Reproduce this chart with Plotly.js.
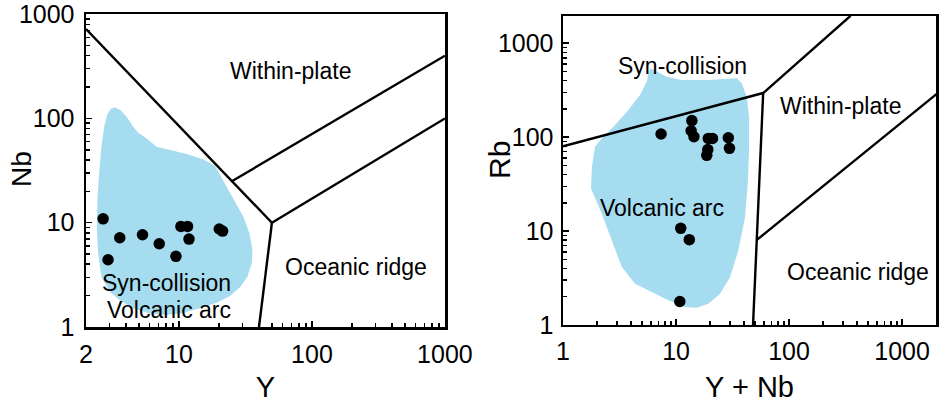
<!DOCTYPE html>
<html>
<head>
<meta charset="utf-8">
<script src="https://cdn.plot.ly/plotly-3.0.1.min.js"></script>
<style>
html,body{margin:0;padding:0;background:#fff;}
#chart{width:950px;height:403px;}
</style>
</head>
<body>
<div id="chart"></div>
<script>
// ---------- Left panel: Nb vs Y ----------
const leftFieldY  = [3.29,3.64,4.04,4.53,4.94,5.71,6.79,8.08,11.4,15.2,18.7,20.4,22.9,26.4,30.5,33.9,35.7,35.3,32.7,28.8,24.2,19.2,14.4,10.8,8.07,6.04,4.53,3.59,3.02,2.61,2.47,2.41,2.44,2.51,2.61,2.74,2.88,3.06];
const leftFieldNb = [128,120,104,83.3,72.9,64.4,53.6,50.6,45.6,40.6,35,28.7,21.8,15.9,11.4,7.91,5.47,4.08,3.03,2.40,1.98,1.71,1.51,1.37,1.30,1.35,1.51,1.81,2.18,3.04,5.09,9.16,16.5,29.8,53.6,83.2,108,123];

const sampleY  = [2.69,2.93,3.59,5.32,7.11,9.49,10.35,11.6,11.9,20.1,21.3];
const sampleNb = [10.9,4.42,7.18,7.67,6.29,4.76,9.22,9.22,6.97,8.7,8.32];

const leftBoundaries = [
  {x:[2,50],   y:[720,10]},
  {x:[40,50],  y:[1,10]},
  {x:[50,1000],y:[10,100]},
  {x:[25,1000],y:[25,400]}
];
const leftLabels  = ["Within-plate","Oceanic ridge","Syn-collision","Volcanic arc"];
const leftLabelX  = [68.7, 216, 8.07, 8.46];
const leftLabelYv = [284, 3.76, 2.64, 1.47];

// ---------- Right panel: Rb vs Y+Nb ----------
const rightFieldYNb = [5.97,6.75,8.27,11.2,19.3,34.5,38.1,42.2,44.3,44.3,43.1,40.8,35.6,30.1,24.5,19.3,15.2,12.0,8.55,6.09,4.34,3.31,2.70,2.20,1.77,1.80,1.92,2.20,2.89,3.78,4.80,5.50,5.77];
const rightFieldRb  = [542,499,441,407,407,424,375,270,165,72.8,32.1,14.1,6.24,3.24,2.15,1.68,1.53,1.55,1.83,2.24,2.75,4.14,7.97,15.4,28.4,48.3,79,97,135,195,281,390,499];

const sampleYNb = [7.37,13.8,13.6,14.4,19.3,21,19.1,18.7,29,29.7,11,13.1,10.8];
const sampleRb  = [108,150,117,101,97,97,74,64,98.6,76,10.7,8.1,1.78];

const rightBoundaries = [
  {x:[1,59],     y:[80,295]},
  {x:[59,350],   y:[295,1960]},
  {x:[59,48],    y:[295,1]},
  {x:[51.5,2050],y:[8,292]}
];
const rightLabels  = ["Syn-collision","Within-plate","Volcanic arc","Oceanic ridge"];
const rightLabelX  = [11.4, 283, 7.47, 405];
const rightLabelYv = [574, 215, 17.8, 3.66];

// tick labels
const leftXTicks  = [2,10,100,1000];
const logTicks    = [1,10,100,1000];

// ---------- styling ----------
const FONT = "Arial, 'Liberation Sans', Helvetica, sans-serif";
const FIELD = "#a6dcef";
const lg = Math.log10;

function minorVals(lo, hi){
  const v=[];
  for(let d=lo; d<hi; d*=10){ for(let k=2;k<=9;k++){ v.push(d*k); } }
  return v;
}

const traces = [];
traces.push({x:leftFieldY, y:leftFieldNb, xaxis:'x', yaxis:'y', mode:'lines', fill:'toself',
  fillcolor:FIELD, line:{width:0, color:FIELD}, hoverinfo:'skip', showlegend:false});
leftBoundaries.forEach(b=>traces.push({x:b.x, y:b.y, xaxis:'x', yaxis:'y', mode:'lines',
  line:{color:'#000', width:2.4}, showlegend:false, hoverinfo:'skip'}));
traces.push({x:sampleY, y:sampleNb, xaxis:'x', yaxis:'y', mode:'markers',
  marker:{color:'#000', size:11.5}, showlegend:false});

traces.push({x:rightFieldYNb, y:rightFieldRb, xaxis:'x2', yaxis:'y2', mode:'lines', fill:'toself',
  fillcolor:FIELD, line:{width:0, color:FIELD}, hoverinfo:'skip', showlegend:false});
rightBoundaries.forEach(b=>traces.push({x:b.x, y:b.y, xaxis:'x2', yaxis:'y2', mode:'lines',
  line:{color:'#000', width:2.4}, showlegend:false, hoverinfo:'skip'}));
traces.push({x:sampleYNb, y:sampleRb, xaxis:'x2', yaxis:'y2', mode:'markers',
  marker:{color:'#000', size:11.5}, showlegend:false});

const MINOR_BASE = {ticks:'inside', ticklen:4, tickwidth:1.5, tickcolor:'#000', showgrid:false, tickmode:'array'};

function axisBase(extra){
  return Object.assign({
    type:'log', showline:true, mirror:true, linecolor:'#000', linewidth:2.5,
    ticks:'inside', ticklen:6, tickwidth:1.5, tickcolor:'#000',
    showgrid:false, zeroline:false, ticklabeloverflow:'allow',
    tickfont:{family:FONT, size:25, color:'#000'}
  }, extra);
}

const annotations = [];
const LBL_FONT = {family:FONT, size:23, color:'#000'};
leftLabels.forEach((t,i)=>annotations.push({text:t, x:lg(leftLabelX[i]), y:lg(leftLabelYv[i]),
  xref:'x', yref:'y', xanchor:'center', yanchor:'middle', showarrow:false, font:LBL_FONT}));
rightLabels.forEach((t,i)=>annotations.push({text:t, x:lg(rightLabelX[i]), y:lg(rightLabelYv[i]),
  xref:'x2', yref:'y2', xanchor:'center', yanchor:'middle', showarrow:false, font:LBL_FONT}));
// y-axis titles
annotations.push({text:'Nb', xref:'paper', yref:'paper', x:(21-86)/850, y:(327-169)/313,
  xanchor:'center', yanchor:'middle',
  textangle:-90, showarrow:false, font:{family:FONT, size:28, color:'#000'}});
annotations.push({text:'Rb', xref:'paper', yref:'paper', x:(500-86)/850, y:(327-160)/313,
  xanchor:'center', yanchor:'middle',
  textangle:-90, showarrow:false, font:{family:FONT, size:30, color:'#000'}});

const layout = {
  width:950, height:403,
  margin:{l:86, r:14, t:14, b:76},
  paper_bgcolor:'#fff', plot_bgcolor:'#fff',
  showlegend:false,
  xaxis: axisBase({domain:[0,0.4224], range:[lg(2),3.001], anchor:'y',
    tickmode:'array', tickvals:leftXTicks, ticktext:leftXTicks.map(String),
    minor:Object.assign({tickvals:minorVals(1,1000).filter(v=>v>2)}, MINOR_BASE),
    ticklabelstandoff:3,
    title:{text:'Y', standoff:12, font:{family:FONT, size:29, color:'#000'}}}),
  yaxis: axisBase({domain:[0,1], range:[0,3.002], anchor:'x',
    tickmode:'array', tickvals:logTicks, ticktext:logTicks.map(String),
    minor:Object.assign({tickvals:minorVals(1,1000)}, MINOR_BASE),
    ticklabelstandoff:4}),
  xaxis2: axisBase({domain:[0.5612,1], range:[0,3.3], anchor:'y2',
    tickmode:'array', tickvals:logTicks, ticktext:logTicks.map(String),
    minor:Object.assign({tickvals:minorVals(1,1000)}, MINOR_BASE),
    ticklabelstandoff:3,
    title:{text:'Y + Nb', standoff:12, font:{family:FONT, size:29, color:'#000'}}}),
  yaxis2: axisBase({domain:[0.0064,0.9936], range:[0,3.29], anchor:'x2',
    tickmode:'array', tickvals:logTicks, ticktext:logTicks.map(String),
    minor:Object.assign({tickvals:minorVals(1,1000)}, MINOR_BASE),
    ticklabelstandoff:2}),
  annotations: annotations
};

Plotly.newPlot('chart', traces, layout, {displayModeBar:false, staticPlot:true});
</script>
</body>
</html>
